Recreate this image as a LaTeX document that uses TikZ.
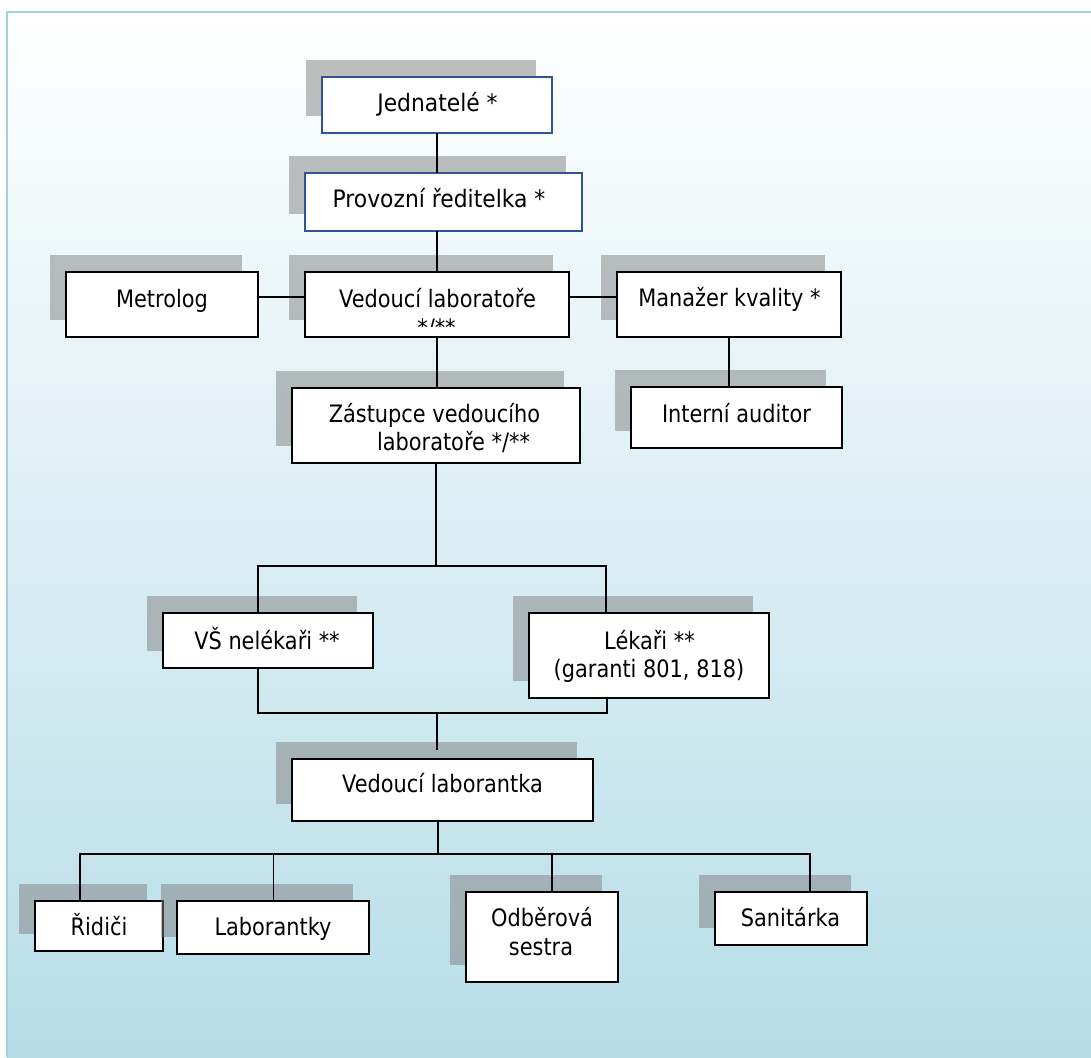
\documentclass[tikz,border=0pt]{standalone}
\usepackage{fontspec}
\setmainfont[FakeStretch=0.87]{DejaVu Sans}
\newfontfamily\topfont[FakeStretch=0.91]{DejaVu Sans}
\definecolor{bgblue}{RGB}{183,221,232}
\colorlet{bgmid}{bgblue!42!white}
\definecolor{panelline}{RGB}{160,210,222}
\definecolor{shadowgray}{RGB}{128,128,128}
\definecolor{boxblue}{RGB}{47,84,150}
\tikzset{
  shadowbox/.style={fill=shadowgray, fill opacity=0.5},
  orgbox/.style={draw=black, line width=1.8pt, fill=white, inner sep=0pt, outer sep=0pt},
  topbox/.style={orgbox, draw=boxblue, line width=1.1pt},
  lbl/.style={anchor=base, inner sep=0pt, font=\fontsize{24}{28}\selectfont},
  biglbl/.style={anchor=base, inner sep=0pt, font=\topfont\fontsize{24}{28}\selectfont},
  link/.style={line width=2pt, draw=black},
  thinlink/.style={line width=1pt, draw=black},
}
\newcommand\orgnode[6]{%
  \fill[shadowbox] ({#3-16},{#4-17}) rectangle ({#5-16},{#6-17});
  \node[#1, minimum width={#5-#3}, minimum height={#6-#4}] (#2) at ({(#3+#5)/2},{(#4+#6)/2}) {};
}
\begin{document}
\begin{tikzpicture}[x=1pt,y=-1pt]
\useasboundingbox (0,0) rectangle (1091,1057);
\fill[white] (0,0) rectangle (1091,1057);
\shade[top color=white, middle color=bgmid, bottom color=bgblue] (7,12) rectangle (1091,1057);
\draw[panelline, line width=1.6pt] (7,1057) -- (7,12) -- (1091,12);

% boxes with shadows
\orgnode{topbox}{jed}{322}{77}{552}{133}
\orgnode{topbox}{pro}{305}{173}{582}{231}
\orgnode{orgbox}{met}{66}{272}{258}{337}
\orgnode{orgbox}{vl}{305}{272}{569}{337}
\orgnode{orgbox}{man}{617}{272}{841}{337}
\orgnode{orgbox}{int}{631}{387}{842}{448}
\orgnode{orgbox}{zas}{292}{388}{580}{463}
\orgnode{orgbox}{vs}{163}{613}{373}{668}
\orgnode{orgbox}{lek}{529}{613}{769}{698}
\orgnode{orgbox}{vlk}{292}{759}{593}{821}
\orgnode{orgbox}{rid}{35}{901}{163}{951}
\orgnode{orgbox}{lab}{177}{901}{369}{954}
\orgnode{orgbox}{odb}{466}{892}{618}{982}
\orgnode{orgbox}{san}{715}{892}{867}{945}

% texts
\node[biglbl] (jedt) at (437.5,111) {Jednatelé *};
\node[biglbl] (prot) at (439,207) {Provozní ředitelka *};
\node[lbl] (mett) at (162,307.5) {Metrolog};
\node[lbl] (vlt) at (437.5,307.5) {Vedoucí laboratoře};
\begin{scope}
  \clip (305,272) rectangle (569,326);
  \node[lbl] (vls) at (436.5,336) {*/**};
\end{scope}
\node[lbl] (mant) at (729.5,306.5) {Manažer kvality *};
\node[lbl] (intt) at (736.5,422) {Interní auditor};
\node[lbl] (zast1) at (434.5,422) {Zástupce vedoucího};
\node[lbl] (zast2) at (453.5,450) {laboratoře */**};
\node[lbl] (vst) at (267,649) {VŠ nelékaři **};
\node[lbl] (lekt1) at (649.5,649) {Lékaři **};
\node[lbl] (lekt2) at (649,677) {(garanti 801, 818)};
\node[lbl] (vlkt) at (442.5,792) {Vedoucí laborantka};
\node[lbl] (ridt) at (99,935) {Řidiči};
\node[lbl] (labt) at (273,935) {Laborantky};
\node[lbl] (odbt1) at (542,926) {Odběrová};
\node[lbl] (odbt2) at (541,955) {sestra};
\node[lbl] (sant) at (790.5,926) {Sanitárka};

% junctions
\coordinate (hm) at (0,297);
\coordinate (h1l) at (258,566);
\coordinate (h1r) at (606,566);
\coordinate (h2l) at (258,713);
\coordinate (h2r) at (607,713);
\coordinate (h2m) at (437,713);
\coordinate (vlkin) at ([yshift=9pt]vlk.north);
\coordinate (h3l) at (80,854);
\coordinate (h3r) at (810,854);
\coordinate (h3m) at (438,854);
\coordinate (h3a) at (273.5,854);
\coordinate (h3o) at (552,854);

% connectors
\draw[link] (jed.south) -- (jed.south |- pro.north);
\draw[link] (vl.north |- pro.south) -- (vl.north);
\draw[link] (met.east |- hm) -- (vl.west |- hm);
\draw[link] (vl.east |- hm) -- (man.west |- hm);
\draw[link] (man.south) -- (man.south |- int.north);
\draw[link] (vl.south) -- (vl.south |- zas.north);
\draw[link] (zas.south) -- (zas.south |- h1l);
\draw[link] (h1l |- vs.north) -- (h1l) -- (h1r) -- (h1r |- lek.north);
\draw[link] (h2l |- vs.south) -- (h2l) -- (h2r) -- (h2r |- lek.south);
\draw[link] (h2m) -- (h2m |- vlkin);
\draw[link] (h3m |- vlk.south) -- (h3m);
\draw[link] (h3l |- rid.north) -- (h3l) -- (h3r) -- (h3r |- san.north);
\draw[link] (h3o) -- (h3o |- odb.north);
\draw[thinlink] (h3a) -- (h3a |- lab.north);
\end{tikzpicture}
\end{document}
